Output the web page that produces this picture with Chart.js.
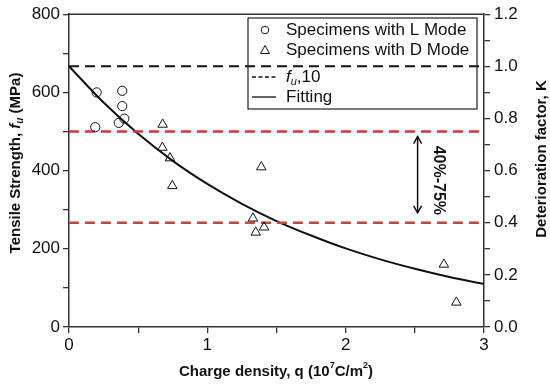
<!DOCTYPE html>
<html>
<head>
<meta charset="utf-8">
<script src="https://cdn.jsdelivr.net/npm/chart.js@4/dist/chart.umd.min.js"></script>
<style>
html,body{margin:0;padding:0;background:#fff;}
#wrap{width:550px;height:387px;position:relative;}
</style>
</head>
<body>
<div id="wrap"><canvas id="c" width="550" height="387"></canvas></div>
<script>
// ---- data ----
const lModeQ = [0.19, 0.20, 0.36, 0.385, 0.385, 0.40];
const lModeF = [511, 600, 522, 604, 565, 533];
const dModeQ = [0.675, 0.677, 0.73, 0.747, 1.33, 1.35, 1.39, 1.41, 2.71, 2.80];
const dModeF = [459, 518, 432, 361, 278, 242, 409, 255, 160, 63];
const fitQ = [0, 0.25, 0.5, 0.75, 1.0, 1.25, 1.5, 1.75, 2.0, 2.25, 2.5, 2.75, 3.0];
const fitF = [667, 574, 494, 425, 366, 315, 271, 234, 201, 173, 149, 128, 110];
const fu10 = 666.7;          // K = 1.0
const upperLimit = 500;      // K = 0.75
const lowerLimit = 266.7;    // K = 0.40
const xTicks = [0, 1, 2, 3];
const yTicks = [0, 200, 400, 600, 800];
const kTicks = [0.0, 0.2, 0.4, 0.6, 0.8, 1.0, 1.2];
const rangeLabel = '40%-75%';
const legendLabels = ['Specimens with L Mode', 'Specimens with D Mode', 'fu,10', 'Fitting'];

const FONT = '"Liberation Sans", Arial, sans-serif';
const toPts = (xs, ys) => xs.map((x, i) => ({x: x, y: ys[i]}));

const annotPlugin = {
  id: 'annot',
  afterDraw(chart) {
    const ctx = chart.ctx;
    const ca = chart.chartArea;
    const xs = chart.scales.x, ys = chart.scales.y;
    ctx.save();
    // top frame line
    ctx.strokeStyle = '#333'; ctx.lineWidth = 1.5;
    ctx.beginPath(); ctx.moveTo(ca.left, ca.top); ctx.lineTo(ca.right, ca.top); ctx.stroke();

    // double arrow
    const ax = xs.getPixelForValue(2.52);
    const ay1 = ys.getPixelForValue(487), ay2 = ys.getPixelForValue(292);
    ctx.strokeStyle = '#111'; ctx.lineWidth = 1.5;
    ctx.beginPath(); ctx.moveTo(ax, ay1); ctx.lineTo(ax, ay2); ctx.stroke();
    ctx.beginPath(); ctx.moveTo(ax - 4, ay1 + 7); ctx.lineTo(ax, ay1); ctx.lineTo(ax + 4, ay1 + 7); ctx.stroke();
    ctx.beginPath(); ctx.moveTo(ax - 4, ay2 - 7); ctx.lineTo(ax, ay2); ctx.lineTo(ax + 4, ay2 - 7); ctx.stroke();
    // range label, rotated clockwise
    ctx.save();
    ctx.translate(xs.getPixelForValue(2.67), ys.getPixelForValue(375));
    ctx.rotate(Math.PI / 2);
    ctx.font = 'bold 16px ' + FONT; ctx.fillStyle = '#111';
    ctx.textAlign = 'center'; ctx.textBaseline = 'middle';
    ctx.fillText(rangeLabel, 0, 0);
    ctx.restore();

    // legend
    ctx.strokeStyle = '#222'; ctx.lineWidth = 1.2;
    ctx.strokeRect(248, 18, 229, 91);
    ctx.font = '17px ' + FONT; ctx.fillStyle = '#111';
    ctx.textBaseline = 'middle'; ctx.textAlign = 'left';
    const tx = 286, rows = [30, 50, 77, 97];
    // circle
    ctx.lineWidth = 1; ctx.strokeStyle = '#111';
    ctx.beginPath(); ctx.arc(265, rows[0], 3.8, 0, Math.PI * 2); ctx.stroke();
    ctx.fillText(legendLabels[0], tx, rows[0]);
    // triangle
    ctx.beginPath(); ctx.moveTo(265, rows[1] - 4.5); ctx.lineTo(269.5, rows[1] + 3.5); ctx.lineTo(260.5, rows[1] + 3.5); ctx.closePath(); ctx.stroke();
    ctx.fillText(legendLabels[1], tx, rows[1]);
    // dashed
    ctx.lineWidth = 1.3; ctx.setLineDash([4, 2.5]);
    ctx.beginPath(); ctx.moveTo(252, rows[2]); ctx.lineTo(276, rows[2]); ctx.stroke();
    ctx.setLineDash([]);
    ctx.font = 'italic 17px ' + FONT;
    ctx.fillText('f', tx, rows[2]);
    let w = ctx.measureText('f').width;
    ctx.font = 'italic 11px ' + FONT;
    ctx.fillText('u', tx + w, rows[2] + 5);
    w += ctx.measureText('u').width;
    ctx.font = '17px ' + FONT;
    ctx.fillText(',10', tx + w, rows[2]);
    // solid
    ctx.beginPath(); ctx.moveTo(252, rows[3]); ctx.lineTo(276, rows[3]); ctx.stroke();
    ctx.fillText(legendLabels[3], tx, rows[3]);

    // x title
    const parts = [
      ['Charge density, q (10', 'bold 15px', 0],
      ['7', 'bold 9px', -6],
      ['C/m', 'bold 15px', 0],
      ['2', 'bold 9px', -6],
      [')', 'bold 15px', 0]
    ];
    drawParts(ctx, parts, 276, 372, 0);
    // left title
    const lparts = [
      ['Tensile Strength, ', 'bold 15px', 0],
      ['f', 'italic bold 15px', 0],
      ['u', 'italic bold 10px', 4],
      [' (MPa)', 'bold 15px', 0]
    ];
    drawParts(ctx, lparts, 16, 163, -Math.PI / 2);
    drawParts(ctx, [['Deterioration factor, K', 'bold 15px', 0]], 542, 159, -Math.PI / 2);
    ctx.restore();
  }
};

function drawParts(ctx, parts, cx, cy, rot) {
  ctx.save();
  ctx.translate(cx, cy); ctx.rotate(rot);
  let total = 0;
  parts.forEach(p => { ctx.font = p[1] + ' ' + FONT; total += ctx.measureText(p[0]).width; });
  let x = -total / 2;
  ctx.fillStyle = '#111'; ctx.textBaseline = 'middle'; ctx.textAlign = 'left';
  parts.forEach(p => { ctx.font = p[1] + ' ' + FONT; ctx.fillText(p[0], x, p[2]); x += ctx.measureText(p[0]).width; });
  ctx.restore();
}

const tickFont = {family: FONT, size: 17};
new Chart(document.getElementById('c'), {
  type: 'scatter',
  data: {
    datasets: [
      {label: legendLabels[0], data: toPts(lModeQ, lModeF), pointStyle: 'circle', pointRadius: 4.6,
        borderColor: '#111', backgroundColor: 'rgba(0,0,0,0)', borderWidth: 1, yAxisID: 'y'},
      {label: legendLabels[1], data: toPts(dModeQ, dModeF), pointStyle: 'triangle', pointRadius: 5.5,
        borderColor: '#111', backgroundColor: 'rgba(0,0,0,0)', borderWidth: 1, yAxisID: 'y'},
      {label: legendLabels[2], data: [{x: 0, y: fu10}, {x: 3, y: fu10}], showLine: true, pointRadius: 0,
        borderColor: '#111', borderWidth: 2, borderDash: [10, 6], yAxisID: 'y'},
      {label: 'upper', data: [{x: 0, y: upperLimit}, {x: 3, y: upperLimit}], showLine: true, pointRadius: 0,
        borderColor: '#e0303c', borderWidth: 2.5, borderDash: [10, 6], yAxisID: 'y'},
      {label: 'lower', data: [{x: 0, y: lowerLimit}, {x: 3, y: lowerLimit}], showLine: true, pointRadius: 0,
        borderColor: '#c04a3c', borderWidth: 2.5, borderDash: [10, 6], yAxisID: 'y'},
      {label: legendLabels[3], data: toPts(fitQ, fitF), showLine: true, pointRadius: 0,
        borderColor: '#111', borderWidth: 2, cubicInterpolationMode: 'monotone', yAxisID: 'y'}
    ]
  },
  options: {
    responsive: false, animation: false, devicePixelRatio: 1,
    layout: {padding: {top: 12, left: 0, right: 0, bottom: 0}},
    plugins: {legend: {display: false}, tooltip: {enabled: false}},
    scales: {
      x: {
        type: 'linear', min: 0, max: 3,
        afterFit: s => { s.height = 60; },
        afterBuildTicks: s => { s.ticks = [0, 0.5, 1, 1.5, 2, 2.5, 3].map(v => ({value: v})); },
        ticks: {font: tickFont, color: '#111', padding: 2, maxRotation: 0,
          callback: v => xTicks.includes(v) ? String(v) : ''},
        grid: {drawOnChartArea: false, drawTicks: true, tickLength: 6, color: '#333', lineWidth: 1.3},
        border: {color: '#333', width: 1.5}
      },
      y: {
        position: 'left', min: 0, max: 800,
        afterFit: s => { s.width = 69; },
        afterBuildTicks: s => { s.ticks = [0,100,200,300,400,500,600,700,800].map(v => ({value: v})); },
        ticks: {font: tickFont, color: '#111', padding: 3,
          callback: v => yTicks.includes(v) ? String(v) : ''},
        grid: {drawOnChartArea: false, drawTicks: true, tickLength: 6, color: '#333', lineWidth: 1.3},
        border: {color: '#333', width: 1.5}
      },
      y2: {
        position: 'right', min: 0, max: 1.2,
        afterFit: s => { s.width = 66; },
        afterBuildTicks: s => { s.ticks = [0,1,2,3,4,5,6,7,8,9,10,11,12].map(v => ({value: v / 10})); },
        ticks: {font: tickFont, color: '#111', padding: 4,
          callback: v => kTicks.some(k => Math.abs(k - v) < 1e-6) ? v.toFixed(1) : ''},
        grid: {drawOnChartArea: false, drawTicks: true, tickLength: 6, color: '#333', lineWidth: 1.3},
        border: {color: '#333', width: 1.5}
      }
    }
  },
  plugins: [annotPlugin]
});
</script>
</body>
</html>
